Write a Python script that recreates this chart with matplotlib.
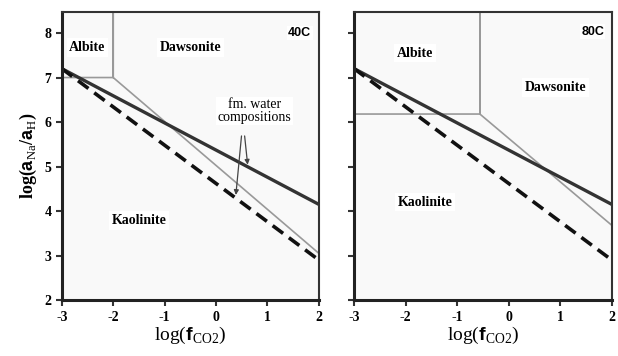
import matplotlib
matplotlib.use('Agg')
import matplotlib.pyplot as plt

plt.rcParams['font.family'] = ['Liberation Serif', 'DejaVu Serif']
plt.rcParams['axes.unicode_minus'] = False  # 刻度用普通连字符
plt.rcParams['mathtext.fontset'] = 'custom'
plt.rcParams['mathtext.rm'] = 'Liberation Serif'
plt.rcParams['mathtext.bf'] = 'Liberation Sans:bold'

# 数据: log(fCO2) 端点与 log(aNa/aH)
x_ends = [-3, 2]
solid_40 = [7.2, 4.15]
dashed_40 = [7.2, 2.9]
solid_80 = [7.2, 4.15]
dashed_80 = [7.2, 2.9]

# 矿物稳定场边界 (灰线)
bound_40_x = [-3, -2, -2, -2, 2]
bound_40_y = [7.0, 7.0, 8.5, 7.0, 3.05]
bound_80_x = [-3, -0.56, -0.56, -0.56, 2]
bound_80_y = [6.18, 6.18, 8.5, 6.18, 3.68]

xticks = [-3, -2, -1, 0, 1, 2]
yticks = [2, 3, 4, 5, 6, 7, 8]

fig = plt.figure(figsize=(6.18, 3.56), dpi=100)
ax1 = fig.add_axes([0.100, 0.157, 0.416, 0.809])
ax2 = fig.add_axes([0.573, 0.157, 0.417, 0.809])


def setup(ax, show_y):
    ax.set_xlim(-3, 2)
    ax.set_ylim(2, 8.47)
    ax.set_facecolor('#f9f9f9')
    ax.set_xticks(xticks)
    ax.set_yticks(yticks)
    ax.tick_params(direction='out', length=4, width=1.5, color='#333333', labelsize=10)
    for lab in ax.get_xticklabels() + ax.get_yticklabels():
        lab.set_fontweight('bold')
    if not show_y:
        ax.set_yticklabels([])
    for s in ['left', 'bottom']:
        ax.spines[s].set_linewidth(2.2)
        ax.spines[s].set_color('#222222')
    for s in ['top', 'right']:
        ax.spines[s].set_linewidth(1.5)
        ax.spines[s].set_color('#333333')
    ax.set_xlabel(r'log($\mathbf{f}_{\rm CO2}$)', fontsize=14, labelpad=1)


def region(ax, x, y, txt):
    ax.text(x, y, txt, ha='center', va='center', fontsize=10, fontweight='bold',
            bbox=dict(facecolor='white', edgecolor='none', pad=2))


setup(ax1, True)
setup(ax2, False)
ax1.set_ylabel(r'log($\mathbf{a}_{\rm Na}$/$\mathbf{a}_{\rm H}$)', fontsize=13,
               fontweight='bold', labelpad=4)

# 左图 40C
ax1.plot(bound_40_x, bound_40_y, color='#999999', lw=1.2)
ax1.plot(x_ends, solid_40, color='#333333', lw=2.4)
ax1.plot(x_ends, dashed_40, color='#111111', lw=2.6, ls=(0, (3.6, 2)))
region(ax1, -2.5, 7.68, 'Albite')
region(ax1, -0.5, 7.68, 'Dawsonite')
region(ax1, -1.5, 3.79, 'Kaolinite')
ax1.text(1.85, 8.0, '40C', ha='right', va='center', fontsize=9, fontweight='bold',
         family='Liberation Sans', bbox=dict(facecolor='white', edgecolor='none', pad=1))
ax1.text(0.75, 6.25, 'fm. water\ncompositions', ha='center', va='center', fontsize=10,
         linespacing=1.0, bbox=dict(facecolor='white', edgecolor='none', pad=1))
ax1.annotate('', xy=(0.62, 4.98), xytext=(0.55, 5.75),
             arrowprops=dict(arrowstyle='-|>', color='#444444', lw=0.9, mutation_scale=7))
ax1.annotate('', xy=(0.38, 4.3), xytext=(0.5, 5.75),
             arrowprops=dict(arrowstyle='-|>', color='#444444', lw=0.9, mutation_scale=7))

# 右图 80C
ax2.plot(bound_80_x, bound_80_y, color='#999999', lw=1.2)
ax2.plot(x_ends, solid_80, color='#333333', lw=2.4)
ax2.plot(x_ends, dashed_80, color='#111111', lw=2.6, ls=(0, (3.6, 2)))
region(ax2, -1.82, 7.55, 'Albite')
region(ax2, 0.9, 6.77, 'Dawsonite')
region(ax2, -1.62, 4.2, 'Kaolinite')
ax2.text(1.85, 8.03, '80C', ha='right', va='center', fontsize=9, fontweight='bold',
         family='Liberation Sans', bbox=dict(facecolor='white', edgecolor='none', pad=1))

fig.savefig('out.png', dpi=100)
